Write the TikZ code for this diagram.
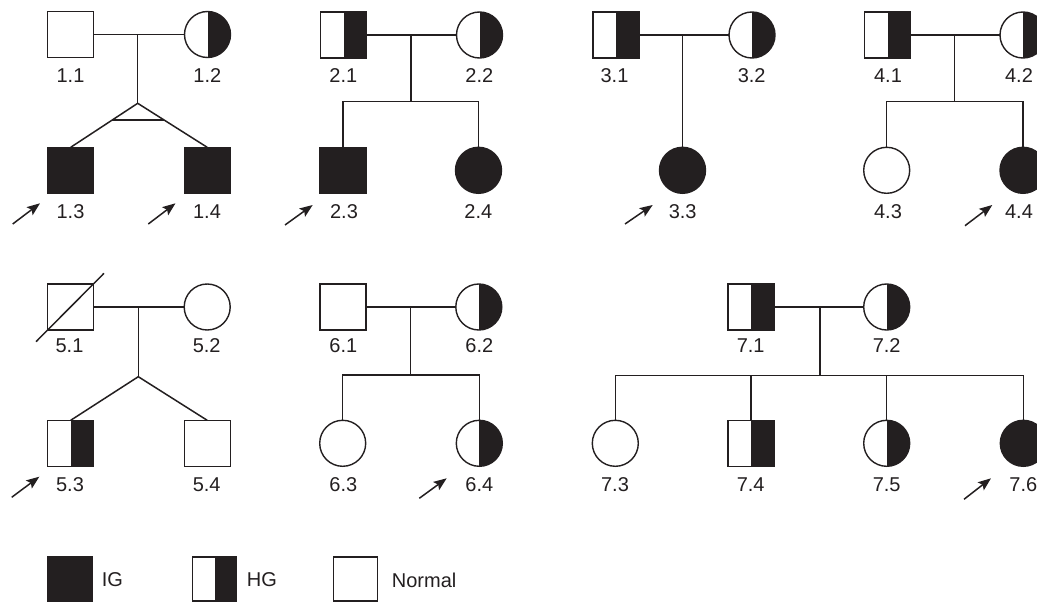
\documentclass[tikz,border=0pt]{standalone}
\usepackage{fontspec}
\setmainfont{Liberation Sans}
\usetikzlibrary{calc,arrows.meta}
\definecolor{ink}{HTML}{231F20}
\begin{document}
\begin{tikzpicture}[x=1pt,y=-1pt,
  ind/.style={draw=ink,line width=1.4pt,minimum size=46pt,inner sep=0pt,outer sep=0pt,fill=white},
  male/.style={ind,rectangle},
  female/.style={ind,circle},
  ig/.style={fill=ink},
  hg/.style={path picture={\fill[ink] (path picture bounding box.north) rectangle (path picture bounding box.south east);}},
  lbl/.style={font=\fontsize{20}{23}\selectfont, text=ink, inner sep=0pt},
  link/.style={draw=ink,line width=1.5pt},
  proband/.style={draw=ink,line width=1.5pt,-{Stealth[length=13pt,width=10pt,inset=2.5pt]}},
  keybox/.style={male,minimum size=44pt},
]
\useasboundingbox (0,0) rectangle (1037,602);
\clip (0,0) rectangle (1037,602);

% ---------- Pedigree 1 ----------
\node[male] (n11) at (70.7,34.5) {};
\node[female,hg] (n12) at (207.5,34.5) {};
\node[male,ig] (n13) at (70.7,170.3) {};
\node[male,ig] (n14) at (207.2,170.3) {};
\coordinate (m1) at (137.7,34.5);
\coordinate (t1) at (137.7,103.3);
\draw[link] (n11) -- (n12);
\draw[link] (m1) -- (t1);
\draw[link] (n13.north) -- (t1) -- (n14.north);
\draw[link] ($(t1)!0.385!(n13.north)$) -- ($(t1)!0.385!(n14.north)$);
\node[lbl] (l11) at (70.5,76) {1.1};
\node[lbl] (l12) at (207.3,76) {1.2};
\node[lbl] (l13) at (70.5,211.7) {1.3};
\node[lbl] (l14) at (207,211.7) {1.4};
\coordinate (a13s) at (12.7,224); \coordinate (a13e) at (40,203.3);
\draw[proband] (a13s) -- (a13e);
\coordinate (a14s) at (148.3,224); \coordinate (a14e) at (175.5,203.3);
\draw[proband] (a14s) -- (a14e);

% ---------- Pedigree 2 ----------
\node[male,hg] (n21) at (343.5,35) {};
\node[female,hg] (n22) at (479.5,35) {};
\node[male,ig] (n23) at (343,170.3) {};
\node[female,ig] (n24) at (478.5,170.3) {};
\coordinate (m2) at (411,35);
\coordinate (s2) at (411,101.7);
\draw[link] (n21) -- (n22);
\draw[link] (m2) -- (s2);
\draw[link] (n23.north) |- (s2) -| (n24.north);
\node[lbl] (l21) at (343.3,76) {2.1};
\node[lbl] (l22) at (479.3,76) {2.2};
\node[lbl] (l23) at (344,211.7) {2.3};
\node[lbl] (l24) at (478.3,211.7) {2.4};
\coordinate (a23s) at (285,225); \coordinate (a23e) at (312.7,205);
\draw[proband] (a23s) -- (a23e);

% ---------- Pedigree 3 ----------
\node[male,hg] (n31) at (615.8,35) {};
\node[female,hg] (n32) at (752,35) {};
\node[female,ig] (n33) at (682.5,170.3) {};
\coordinate (m3) at (682.5,35);
\draw[link] (n31) -- (n32);
\draw[link] (m3) -- (n33.north);
\node[lbl] (l31) at (614.5,76) {3.1};
\node[lbl] (l32) at (751.7,76) {3.2};
\node[lbl] (l33) at (682.7,211.7) {3.3};
\coordinate (a33s) at (625,224); \coordinate (a33e) at (652.7,205);
\draw[proband] (a33s) -- (a33e);

% ---------- Pedigree 4 ----------
\node[male,hg] (n41) at (887.7,35) {};
\node[female,hg] (n42) at (1023,35) {};
\node[female] (n43) at (886.7,170.3) {};
\node[female,ig] (n44) at (1023,170.3) {};
\coordinate (m4) at (954.3,35);
\coordinate (s4) at (954.3,101.7);
\draw[link] (n41) -- (n42);
\draw[link] (m4) -- (s4);
\draw[link] (n43.north) |- (s4) -| (n44.north);
\node[lbl] (l41) at (888,76) {4.1};
\node[lbl] (l42) at (1019,76) {4.2};
\node[lbl] (l43) at (888,211.7) {4.3};
\node[lbl] (l44) at (1019,211.7) {4.4};
\coordinate (a44s) at (965,225.7); \coordinate (a44e) at (992.3,205);
\draw[proband] (a44s) -- (a44e);

% ---------- Pedigree 5 ----------
\node[male] (n51) at (70.7,307) {};
\node[female] (n52) at (207.2,307) {};
\node[male,hg] (n53) at (70.7,443.3) {};
\node[male] (n54) at (207.2,443.3) {};
\coordinate (m5) at (138.3,307);
\coordinate (t5) at (138.3,376.7);
\draw[link] (n51) -- (n52);
\draw[link] (m5) -- (t5);
\draw[link] (n53.north) -- (t5) -- (n54.north);
\coordinate (d5a) at (36,341.7); \coordinate (d5b) at (104,273.3);
\draw[link] (d5a) -- (d5b);
\node[lbl] (l51) at (69.5,346) {5.1};
\node[lbl] (l52) at (206.7,346) {5.2};
\node[lbl] (l53) at (70,484.3) {5.3};
\node[lbl] (l54) at (206.7,484.3) {5.4};
\coordinate (a53s) at (11.7,497.3); \coordinate (a53e) at (39.3,476.7);
\draw[proband] (a53s) -- (a53e);

% ---------- Pedigree 6 ----------
\node[male] (n61) at (343,307) {};
\node[female,hg] (n62) at (478.8,307) {};
\node[female] (n63) at (342.7,443.3) {};
\node[female,hg] (n64) at (479.3,443.3) {};
\coordinate (m6) at (410.7,307);
\coordinate (s6) at (410.7,375);
\draw[link] (n61) -- (n62);
\draw[link] (m6) -- (s6);
\draw[link] (n63.north) |- (s6) -| (n64.north);
\node[lbl] (l61) at (343.3,346) {6.1};
\node[lbl] (l62) at (479.3,346) {6.2};
\node[lbl] (l63) at (343.3,484.3) {6.3};
\node[lbl] (l64) at (479.3,484.3) {6.4};
\coordinate (a64s) at (419.3,498.3); \coordinate (a64e) at (446.7,478.3);
\draw[proband] (a64s) -- (a64e);

% ---------- Pedigree 7 ----------
\node[male,hg] (n71) at (750.8,307) {};
\node[female,hg] (n72) at (886.7,307) {};
\node[female] (n73) at (615.3,443.3) {};
\node[male,hg] (n74) at (750.8,443.3) {};
\node[female,hg] (n75) at (886.7,443.3) {};
\node[female,ig] (n76) at (1023.3,443.3) {};
\coordinate (m7) at (820,307);
\coordinate (s7) at (820,375.7);
\draw[link] (n71) -- (n72);
\draw[link] (m7) -- (s7);
\draw[link] (n73.north) |- (s7) -| (n76.north);
\draw[link] (n74.north) -- (n74.north |- s7);
\draw[link] (n75.north) -- (n75.north |- s7);
\node[lbl] (l71) at (750.7,346) {7.1};
\node[lbl] (l72) at (886.7,346) {7.2};
\node[lbl] (l73) at (615,484.3) {7.3};
\node[lbl] (l74) at (750.7,484.3) {7.4};
\node[lbl] (l75) at (886.7,484.3) {7.5};
\node[lbl] (l76) at (1023.3,484.3) {7.6};
\coordinate (a76s) at (964,499.3); \coordinate (a76e) at (991,478.3);
\draw[proband] (a76s) -- (a76e);

% ---------- Legend ----------
\node[keybox,ig] (k1) at (70,579) {};
\node[keybox,hg] (k2) at (214.7,579) {};
\node[keybox] (k3) at (355.3,579) {};
\node[lbl,anchor=west] (kt1) at (101.7,580) {IG};
\node[lbl,anchor=west] (kt2) at (246.7,580) {HG};
\node[lbl,anchor=west] (kt3) at (391.7,580) {Normal};
\end{tikzpicture}
\end{document}
